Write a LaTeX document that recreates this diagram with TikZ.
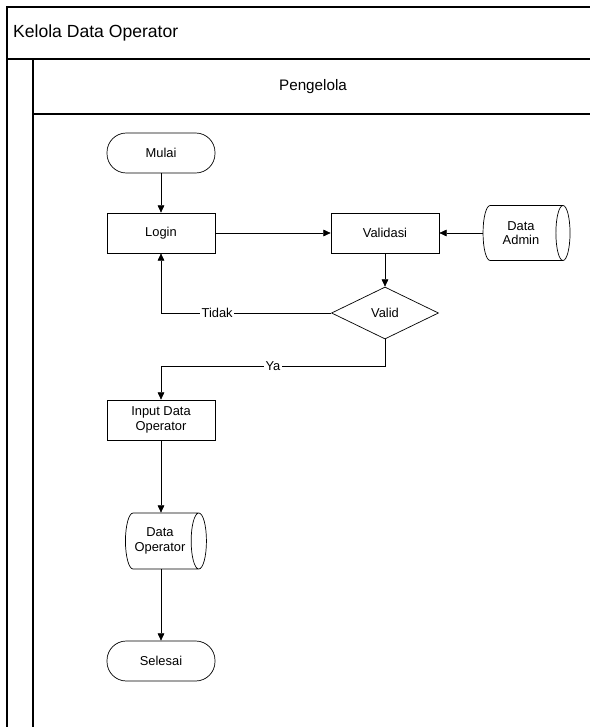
\documentclass[tikz,border=0pt]{standalone}
\usepackage{fontspec}
\setmainfont{Liberation Sans}
\usetikzlibrary{shapes.geometric, arrows.meta}

\tikzset{
    process/.style={rectangle, draw, line width=0.6pt, minimum width=3.24cm, minimum height=1.2cm, align=center, font=\fontsize{11}{12.5}\selectfont},
    terminal/.style={rectangle, draw, line width=0.6pt, rounded corners=0.58cm, minimum width=3.24cm, minimum height=1.2cm, font=\fontsize{11}{12.5}\selectfont},
    storage/.style={cylinder, draw, line width=0.6pt, aspect=0.45, align=center, font=\fontsize{11}{12.5}\selectfont},
    decision/.style={diamond, draw, line width=0.6pt, aspect=2, minimum width=3.21cm, minimum height=1.56cm, inner sep=0pt, font=\fontsize{11}{12.5}\selectfont},
    flow/.style={line width=0.6pt, -{Triangle[length=2.2mm, width=2mm]}},
    lane/.style={line width=1pt}
}

\begin{document}
\begin{tikzpicture}[x=0.03cm, y=-0.03cm]
    \useasboundingbox (0, 0) rectangle (590, 727);

    % Swimlane frame
    \draw[lane] (590, 7) -- (7, 7) -- (7, 727);
    \draw[lane] (7, 59) -- (590, 59);
    \draw[lane] (33, 59) -- (33, 727);
    \draw[lane] (33, 114) -- (590, 114);
    \node[anchor=west, font=\fontsize{15}{18}\selectfont] (title) at (9, 33) {Kelola Data Operator};
    \node[font=\fontsize{13}{16}\selectfont] (actor) at (313, 87) {Pengelola};

    % Steps
    \node[terminal] (mulai) at (161, 153) {Mulai};
    \node[process] (login) at (161, 233) {Login};
    \node[process] (validasi) at (385, 233) {Validasi};
    \node[storage, minimum width=1.65cm, minimum height=2.61cm] (dataadmin) at (521, 233) {Data\\Admin};
    \node[decision] (valid) at (385, 313) {Valid};
    \coordinate (yabend) at (385, 366);
    \node[process] (input) at (161, 420) {Input Data\\Operator};
    \node[storage, minimum width=1.68cm, minimum height=2.43cm] (dataop) at (160, 541) {Data\\Operator};
    \node[terminal] (selesai) at (161, 661) {Selesai};

    % Connectors
    \draw[flow] (mulai) -- (login);
    \draw[flow] (login) -- (validasi);
    \draw[flow] (dataadmin) -- (validasi);
    \draw[flow] (validasi) -- (valid);
    \draw[flow] (valid.west) -- node[pos=0.67, fill=white, inner sep=1pt, font=\fontsize{11}{12.5}\selectfont] {Tidak} (valid.west -| login) -- (login);
    \draw[flow] (valid.south) -- (yabend) -| node[pos=0.25, fill=white, inner sep=1pt, font=\fontsize{11}{12.5}\selectfont] {Ya} (input);
    \draw[flow] (input.south) -- (input.south |- dataop.north);
    \draw[flow] (dataop.south -| selesai) -- (selesai);
\end{tikzpicture}
\end{document}
